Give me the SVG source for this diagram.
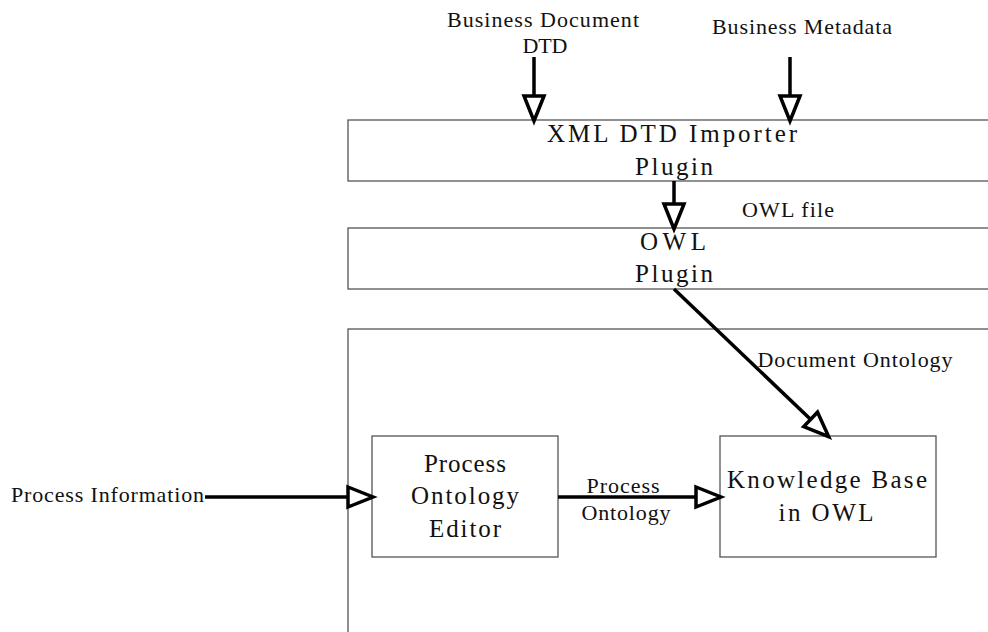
<svg xmlns="http://www.w3.org/2000/svg" width="988" height="632" viewBox="0 0 988 632">
<style>
.box{fill:#fff;stroke:#555;stroke-width:1.3}
.t{font-family:"Liberation Serif","Times New Roman",serif;fill:#111;text-anchor:middle}
.s{font-size:22px}
.l{font-size:25px}
.c{fill:none;stroke:#000;stroke-width:3.5}
</style>
<defs>
<marker id="open" markerUnits="userSpaceOnUse" markerWidth="34" markerHeight="30" viewBox="-4 -4 34 30" refX="24" refY="11" orient="auto">
<path d="M0,1 L25,11 L0,21 Z" fill="#fff" stroke="#000" stroke-width="3.5"/>
</marker>
</defs>
<rect width="988" height="632" fill="#fff"/>
<g id="xml-importer">
<rect class="box" x="348" y="120" width="700" height="61"/>
<text class="t l" x="672" y="142" textLength="250" lengthAdjust="spacing">XML DTD Importer</text>
<text class="t l" x="674" y="175" textLength="78" lengthAdjust="spacing">Plugin</text>
</g>
<g id="owl-plugin">
<rect class="box" x="348" y="228" width="700" height="61"/>
<text class="t l" x="673" y="250" textLength="66" lengthAdjust="spacing">OWL</text>
<text class="t l" x="674" y="282" textLength="78" lengthAdjust="spacing">Plugin</text>
</g>
<g id="container">
<rect class="box" x="348" y="329" width="700" height="340"/>
</g>
<g id="process-editor">
<rect class="box" x="372" y="436" width="186" height="121"/>
<text class="t l" x="465" y="472" textLength="82" lengthAdjust="spacing">Process</text>
<text class="t l" x="465" y="504" textLength="108" lengthAdjust="spacing">Ontology</text>
<text class="t l" x="465" y="537" textLength="72" lengthAdjust="spacing">Editor</text>
</g>
<g id="knowledge-base">
<rect class="box" x="720" y="436" width="216" height="121"/>
<text class="t l" x="827" y="488" textLength="200" lengthAdjust="spacing">Knowledge Base</text>
<text class="t l" x="826" y="521" textLength="95" lengthAdjust="spacing">in OWL</text>
</g>
<g id="connectors">
<line class="c" x1="534" y1="57" x2="534" y2="120" marker-end="url(#open)"/>
<line class="c" x1="790" y1="57" x2="790" y2="120" marker-end="url(#open)"/>
<line class="c" x1="674" y1="181" x2="674" y2="228" marker-end="url(#open)"/>
<line class="c" x1="674" y1="289" x2="828" y2="436" marker-end="url(#open)"/>
<line class="c" x1="205" y1="497" x2="372" y2="497" marker-end="url(#open)"/>
<line class="c" x1="558" y1="497" x2="720" y2="497" marker-end="url(#open)"/>
</g>
<g id="labels">
<text class="t s" x="543" y="27" textLength="192" lengthAdjust="spacing">Business Document</text>
<text class="t s" x="545" y="53" textLength="45" lengthAdjust="spacing">DTD</text>
<text class="t s" x="802" y="34" textLength="180" lengthAdjust="spacing">Business Metadata</text>
<text class="t s" x="788" y="217" textLength="92" lengthAdjust="spacing">OWL file</text>
<text class="t s" x="855" y="367" textLength="195" lengthAdjust="spacing">Document Ontology</text>
<text class="t s" x="623" y="493" textLength="73" lengthAdjust="spacing">Process</text>
<text class="t s" x="626" y="520" textLength="89" lengthAdjust="spacing">Ontology</text>
<text class="t s" x="11" y="502" style="text-anchor:start" textLength="193" lengthAdjust="spacing">Process Information</text>
</g>
</svg>
